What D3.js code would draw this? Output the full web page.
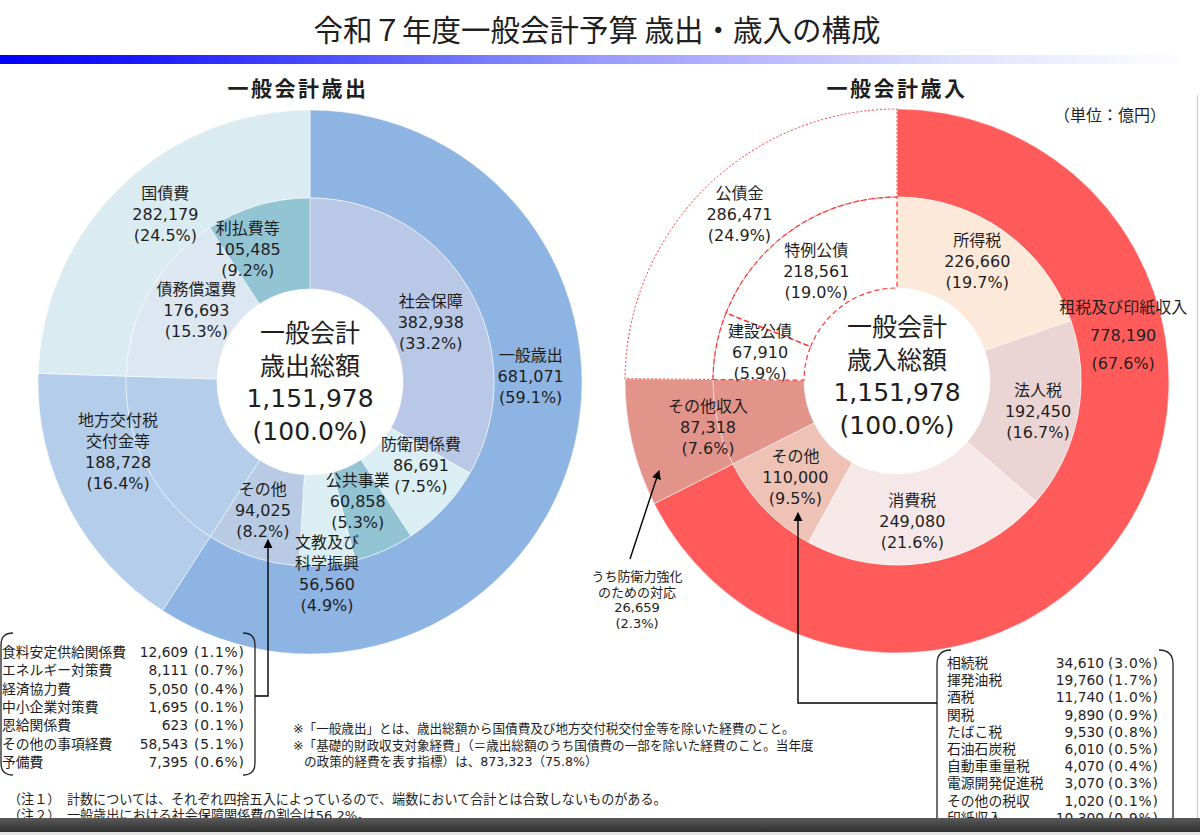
<!DOCTYPE html>
<html>
<head>
<meta charset="utf-8">
<title>令和7年度一般会計予算 歳出・歳入の構成</title>
<script src="https://cdn.jsdelivr.net/npm/d3@7"></script>
<style>
  body { margin: 0; background: #fff; }
  #chart { width: 1200px; height: 835px; }
  text { font-family: "DejaVu Sans", "Noto Sans CJK JP", sans-serif; fill: #1e1e1e; }
</style>
</head>
<body>
<div id="chart"></div>
<script>
// ---- 歳出 (expenditure) ----
const expOuterNames = ["一般歳出", "地方交付税\n交付金等", "国債費"];
const expOuterValues = [681071, 188728, 282179];
const expOuterPct = ["59.1%", "16.4%", "24.5%"];

const expInnerNames = ["社会保障", "防衛関係費", "公共事業", "文教及び\n科学振興", "その他", "地方交付税\n交付金等", "債務償還費", "利払費等"];
const expInnerValues = [382938, 86691, 60858, 56560, 94025, 188728, 176693, 105485];
const expInnerPct = ["33.2%", "7.5%", "5.3%", "4.9%", "8.2%", "16.4%", "15.3%", "9.2%"];

// ---- 歳入 (revenue) ----
const revOuterNames = ["租税及び印紙収入", "その他収入", "公債金"];
const revOuterValues = [778190, 87318, 286471];
const revOuterPct = ["67.6%", "7.6%", "24.9%"];

const revInnerNames = ["所得税", "法人税", "消費税", "その他", "その他収入", "建設公債", "特例公債"];
const revInnerValues = [226660, 192450, 249080, 110000, 87318, 67910, 218561];
const revInnerPct = ["19.7%", "16.7%", "21.6%", "9.5%", "7.6%", "5.9%", "19.0%"];

const totalValue = 1151978;

// 歳出「その他」の内訳
const expOtherNames = ["食料安定供給関係費", "エネルギー対策費", "経済協力費", "中小企業対策費", "恩給関係費", "その他の事項経費", "予備費"];
const expOtherValues = [12609, 8111, 5050, 1695, 623, 58543, 7395];
const expOtherPct = ["1.1%", "0.7%", "0.4%", "0.1%", "0.1%", "5.1%", "0.6%"];

// 歳入「その他」の内訳
const revOtherNames = ["相続税", "揮発油税", "酒税", "関税", "たばこ税", "石油石炭税", "自動車重量税", "電源開発促進税", "その他の税収", "印紙収入"];
const revOtherValues = [34610, 19760, 11740, 9890, 9530, 6010, 4070, 3070, 1020, 10300];
const revOtherPct = ["3.0%", "1.7%", "1.0%", "0.9%", "0.8%", "0.5%", "0.4%", "0.3%", "0.1%", "0.9%"];

// その他収入のうち防衛力強化
const defenseNote = ["うち防衛力強化", "のための対応"];
const defenseValue = 26659;
const defensePct = "2.3%";

// ---- colours (styles kept apart from data) ----
const expOuterColors = ["#8EB4E3", "#B4CDEB", "#DBEBF2"];
const expInnerColors = ["#B9C8E7", "#DAEEF3", "#93C4D3", "#DAEEF3", "#B9CBE4", "#B4CDEB", "#DDE7F2", "#93C4D3"];
const revOuterColors = ["#FF5B5B", "#E3948A", "#FFFFFF"];
const revInnerColors = ["#FDE9D9", "#EBD4D4", "#F6E8E8", "#EFC2B6", "#E3948A", "#FFFFFF", "#FFFFFF"];
const dashRed = "#FF3535";

const width = document.querySelector("#chart").clientWidth;
const height = document.querySelector("#chart").clientHeight;
const svg = d3.select("#chart").append("svg")
    .attr("width", width)
    .attr("height", height);
const defs = svg.append("defs");
const fmt = d3.format(",");

/* HEADER */
svg.append("text")
    .attr("x", 597).attr("y", 41)
    .attr("text-anchor", "middle")
    .attr("font-size", 29.5)
    .style("font-family", "'Noto Sans CJK JP'")
    .text("令和７年度一般会計予算 歳出・歳入の構成");

const grad = defs.append("linearGradient").attr("id", "bar");
[[0, "#0000ff"], [0.12, "#1a1aff"], [0.5, "#9898ff"], [0.8, "#e0e0ff"], [1, "#ffffff"]]
    .forEach(s => grad.append("stop").attr("offset", s[0]).attr("stop-color", s[1]));
svg.append("rect").attr("x", 0).attr("y", 55).attr("width", 1190).attr("height", 9)
    .attr("fill", "url(#bar)");

svg.append("line").attr("x1", 1197.5).attr("x2", 1197.5).attr("y1", 95).attr("y2", 818)
    .attr("stroke", "#c8c8c8");

defs.append("marker").attr("id", "arrow")
    .attr("viewBox", "0 0 10 10").attr("refX", 9).attr("refY", 5)
    .attr("markerWidth", 6.5).attr("markerHeight", 6.5)
    .attr("orient", "auto")
    .append("path").attr("d", "M0,0L10,5L0,10z").attr("fill", "#000");

/* HELPERS */
function makeArcs(names, values, pcts) {
    const rows = names.map((n, i) => ({ name: n, value: values[i], pct: pcts[i] }));
    return d3.pie().sort(null).value(d => d.value)(rows);
}

function label(g, x, y, lines, lh, size) {
    const t = g.append("text").attr("text-anchor", "middle").attr("font-size", size);
    lines.forEach((s, k) => {
        t.append("tspan")
            .attr("x", x)
            .attr("y", y + (k - (lines.length - 1) / 2) * lh + size * 0.36)
            .text(s);
    });
}

const R0 = 93, R1 = 184, R2 = 272;
const arcIn = d3.arc().innerRadius(R0).outerRadius(R1);
const arcOut = d3.arc().innerRadius(R1).outerRadius(R2);

function donut(opts) {
    const g = svg.append("g").attr("transform", `translate(${opts.cx},${opts.cy})`);
    const outer = makeArcs(opts.outerNames, opts.outerValues, opts.outerPct);
    const inner = makeArcs(opts.innerNames, opts.innerValues, opts.innerPct);

    g.append("g").selectAll("path").data(outer).join("path")
        .attr("d", arcOut)
        .attr("fill", (d, i) => opts.outerColors[i])
        .attr("stroke", "#fff").attr("stroke-width", 0.7).attr("stroke-opacity", 0.7);
    g.append("g").selectAll("path").data(inner).join("path")
        .attr("d", arcIn)
        .attr("fill", (d, i) => opts.innerColors[i])
        .attr("stroke", "#fff").attr("stroke-width", 0.7).attr("stroke-opacity", 0.7);

    // dashed outlines for bond-financed revenue
    g.append("g").selectAll("path")
        .data(outer.filter(d => opts.dashed.includes(d.data.name))).join("path")
        .attr("d", arcOut).attr("fill", "none")
        .attr("stroke", dashRed).attr("stroke-width", 1).attr("stroke-dasharray", "2,2");
    g.append("g").selectAll("path")
        .data(inner.filter(d => opts.dashed.includes(d.data.name))).join("path")
        .attr("d", arcIn).attr("fill", "none")
        .attr("stroke", dashRed).attr("stroke-width", 1.2).attr("stroke-dasharray", "5,3");

    // wedge labels
    const lab = g.append("g");
    function put(d, arc) {
        const c = arc.centroid(d);
        const s = opts.shift[d.data.name] || [0, 0];
        const big = opts.big && opts.big === d.data.name;
        label(lab, c[0] + s[0], c[1] + s[1],
            d.data.name.split("\n").concat([fmt(d.data.value), "(" + d.data.pct + ")"]),
            big ? 28 : 21, 16);
    }
    outer.forEach(d => put(d, arcOut));
    // slices that span both rings are labelled once, from the outer ring
    inner.forEach(d => { if (!opts.outerNames.includes(d.data.name)) put(d, arcIn); });

    // centre text
    const ct = g.append("text").attr("text-anchor", "middle");
    [opts.center1, opts.center2, fmt(totalValue), "(100.0%)"].forEach((s, k) => {
        ct.append("tspan").attr("x", 0)
            .attr("y", opts.textDy + (k - 1.5) * 32.7 + 9)
            .attr("font-size", 25)
            .style("font-family", k < 2 ? "'Noto Sans CJK JP'" : null)
            .text(s);
    });
    return { g, outer, inner };
}

/* 歳出 */
svg.append("text").attr("x", 298).attr("y", 96).attr("text-anchor", "middle")
    .attr("font-size", 21).attr("font-weight", "bold").attr("letter-spacing", 2.5)
    .style("font-family", "'Noto Sans CJK JP'")
    .text("一般会計歳出");

const exp = donut({
    cx: 310, cy: 382, textDy: 0,
    outerNames: expOuterNames, outerValues: expOuterValues, outerPct: expOuterPct, outerColors: expOuterColors,
    innerNames: expInnerNames, innerValues: expInnerValues, innerPct: expInnerPct, innerColors: expInnerColors,
    dashed: [],
    center1: "一般会計", center2: "歳出総額",
    shift: {
        "社会保障": [1, 10], "防衛関係費": [10, -12], "公共事業": [-8, -8], "文教及び\n科学振興": [4, 54],
        "その他": [-4, -3], "債務償還費": [7, -4], "利払費等": [-23, 0],
        "一般歳出": [2, -70], "地方交付税\n交付金等": [10, -36], "国債費": [14, -4]
    }
});

/* 歳入 */
svg.append("text").attr("x", 897).attr("y", 96).attr("text-anchor", "middle")
    .attr("font-size", 21).attr("font-weight", "bold").attr("letter-spacing", 2.5)
    .style("font-family", "'Noto Sans CJK JP'")
    .text("一般会計歳入");
svg.append("text").attr("x", 1110).attr("y", 121).attr("text-anchor", "middle")
    .attr("font-size", 16).style("font-family", "'Noto Sans CJK JP'")
    .text("（単位：億円）");

const rev = donut({
    cx: 897, cy: 381, textDy: -5,
    outerNames: revOuterNames, outerValues: revOuterValues, outerPct: revOuterPct, outerColors: revOuterColors,
    innerNames: revInnerNames, innerValues: revInnerValues, innerPct: revInnerPct, innerColors: revInnerColors,
    dashed: ["公債金", "建設公債", "特例公債"],
    center1: "一般会計", center2: "歳入総額", big: "租税及び印紙収入",
    shift: {
        "所得税": [0, -7], "法人税": [5, 4], "消費税": [-9, 4], "その他": [-2, 0],
        "建設公債": [-1, -2], "特例公債": [-3, 5],
        "租税及び印紙収入": [32, -165], "その他収入": [33, -6], "公債金": [3, -5]
    }
});

/* うち防衛力強化 note + arrow */
const otherRev = rev.outer.find(d => d.data.name === "その他収入");
const oc = arcOut.centroid(otherRev);
const noteX = 897 + oc[0] - 38, noteY = 381 + oc[1] + 167;
label(svg, noteX, noteY, defenseNote.concat([fmt(defenseValue), "(" + defensePct + ")"]), 15.5, 13);
svg.append("line")
    .attr("x1", noteX - 7).attr("y1", noteY - 41)
    .attr("x2", noteX + 22).attr("y2", noteY - 129)
    .attr("stroke", "#000").attr("stroke-width", 1.4).attr("marker-end", "url(#arrow)");

/* detail boxes */
function bracketBox(x0, x1, y0, y1, r) {
    const p = d3.path();
    p.moveTo(x0 + r, y0); p.quadraticCurveTo(x0, y0, x0, y0 + r);
    p.lineTo(x0, y1 - r); p.quadraticCurveTo(x0, y1, x0 + r, y1);
    p.moveTo(x1 - r, y0); p.quadraticCurveTo(x1, y0, x1, y0 + r);
    p.lineTo(x1, y1 - r); p.quadraticCurveTo(x1, y1, x1 - r, y1);
    svg.append("path").attr("d", p.toString()).attr("fill", "none")
        .attr("stroke", "#222").attr("stroke-width", 1.3);
}

function detailRows(names, values, pcts, xName, xVal, xPct, y0, step) {
    const y = d3.scaleLinear().domain([0, 1]).range([y0, y0 + step]);
    const g = svg.append("g").attr("font-size", 13.8);
    names.forEach((n, i) => {
        g.append("text").attr("x", xName).attr("y", y(i) + 5).text(n);
        g.append("text").attr("x", xVal).attr("y", y(i) + 5).attr("text-anchor", "end").text(fmt(values[i]));
        g.append("text").attr("x", xPct).attr("y", y(i) + 5).attr("letter-spacing", 0.8).text("(" + pcts[i] + ")");
    });
}

bracketBox(1, 255, 633, 775, 12);
detailRows(expOtherNames, expOtherValues, expOtherPct, 2, 188, 194, 652, 18.3);
svg.append("path")
    .attr("d", d3.line()([[255, 696], [268, 696], [268, 540]]))
    .attr("fill", "none").attr("stroke", "#000").attr("stroke-width", 1.4)
    .attr("marker-end", "url(#arrow)");

bracketBox(937, 1173, 650, 860, 14);
detailRows(revOtherNames, revOtherValues, revOtherPct, 947, 1104, 1108, 663, 17.2);
svg.append("path")
    .attr("d", d3.line()([[937, 703], [798, 703], [798, 513]]))
    .attr("fill", "none").attr("stroke", "#000").attr("stroke-width", 1.4)
    .attr("marker-end", "url(#arrow)");

/* notes */
const notes = svg.append("g").attr("font-size", 12.6).style("font-family", "'Noto Sans CJK JP'");
notes.append("text").attr("x", 293).attr("y", 733)
    .text("※「一般歳出」とは、歳出総額から国債費及び地方交付税交付金等を除いた経費のこと。");
notes.append("text").attr("x", 293).attr("y", 750)
    .text("※「基礎的財政収支対象経費」（＝歳出総額のうち国債費の一部を除いた経費のこと。当年度");
notes.append("text").attr("x", 304).attr("y", 766)
    .text("の政策的経費を表す指標）は、873,323（75.8%）");

const foot = svg.append("g").attr("font-size", 13.1).style("font-family", "'Noto Sans CJK JP'");
foot.append("text").attr("x", 8).attr("y", 804)
    .text("（注１）　計数については、それぞれ四捨五入によっているので、端数において合計とは合致しないものがある。");
foot.append("text").attr("x", 8).attr("y", 820)
    .text("（注２）　一般歳出における社会保障関係費の割合は56.2%。");

/* bottom frame bar */
const bg = defs.append("linearGradient").attr("id", "foot").attr("x1", 0).attr("x2", 0).attr("y1", 0).attr("y2", 1);
bg.append("stop").attr("offset", 0).attr("stop-color", "#5a5a5a");
bg.append("stop").attr("offset", 1).attr("stop-color", "#2e2e2e");
svg.append("rect").attr("x", 0).attr("y", 818).attr("width", width).attr("height", 14).attr("fill", "url(#foot)");
svg.append("rect").attr("x", 0).attr("y", 832).attr("width", width).attr("height", 3).attr("fill", "#e4e4e4");
</script>
</body>
</html>
